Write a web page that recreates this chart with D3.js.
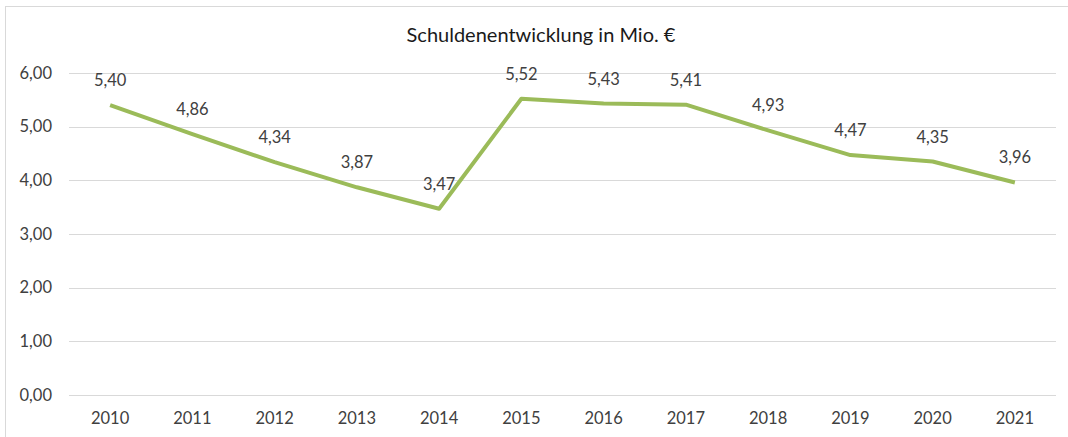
<!DOCTYPE html>
<html>
<head>
<meta charset="utf-8">
<script src="https://cdn.jsdelivr.net/npm/d3@7"></script>
<style>
    html, body { margin: 0; padding: 0; background: #fff; }
    svg { display: block; font-family: Lato, "Open Sans", sans-serif; }
</style>
</head>
<body>
<svg class="graph"></svg>
<script>
// Daten
const years = ["2010", "2011", "2012", "2013", "2014", "2015", "2016", "2017", "2018", "2019", "2020", "2021"];
const debt = [5.40, 4.86, 4.34, 3.87, 3.47, 5.52, 5.43, 5.41, 4.93, 4.47, 4.35, 3.96];
const yTicks = [0, 1, 2, 3, 4, 5, 6];
const title = "Schuldenentwicklung in Mio. €";

const size = {width: 1068, height: 437};
const margin = {left: 69, right: 12, top: 73, bottom: 42};

const fmt = v => d3.format(".2f")(v).replace(".", ",");

const svg = d3.select(".graph")
    .attr("width", size.width)
    .attr("height", size.height);

// Rahmen
svg.append("rect")
    .attr("x", 5.5).attr("y", 6.5)
    .attr("width", size.width).attr("height", size.height)
    .attr("fill", "none")
    .attr("stroke", "#d9d9d9");

svg.append("text")
    .attr("x", 541).attr("y", 42)
    .attr("text-anchor", "middle")
    .attr("font-size", 20)
    .attr("fill", "#1a1a1a")
    .text(title);

const x = d3.scaleBand()
    .domain(years)
    .range([margin.left, size.width - margin.right]);

const y = d3.scaleLinear()
    .domain([0, 6])
    .range([size.height - margin.bottom, margin.top]);

// Gitternetz
svg.append("g")
    .selectAll("line")
    .data(yTicks)
    .join("line")
    .attr("x1", margin.left).attr("x2", size.width - margin.right)
    .attr("y1", d => Math.round(y(d)) + 0.5)
    .attr("y2", d => Math.round(y(d)) + 0.5)
    .attr("stroke", "#d9d9d9")
    .attr("stroke-width", 1);

const yAxis = d3.axisLeft(y)
    .tickValues(yTicks)
    .tickFormat(fmt)
    .tickSize(0)
    .tickPadding(17);

svg.append("g")
    .attr("transform", `translate(${margin.left},0)`)
    .call(yAxis)
    .call(g => g.select(".domain").remove())
    .call(g => g.selectAll("text").attr("font-size", 16.5).attr("fill", "#404040")
        .attr("font-family", "Lato, 'Open Sans', sans-serif"));

const xAxis = d3.axisBottom(x).tickSize(0).tickPadding(17);

svg.append("g")
    .attr("transform", `translate(0,${y(0)})`)
    .call(xAxis)
    .call(g => g.select(".domain").remove())
    .call(g => g.selectAll("text").attr("font-size", 16.5).attr("fill", "#404040")
        .attr("font-family", "Lato, 'Open Sans', sans-serif"));

const line = d3.line()
    .x((d, i) => x(years[i]) + x.bandwidth() / 2)
    .y(d => y(d));

svg.append("path")
    .datum(debt)
    .attr("fill", "none")
    .attr("stroke", "#9bbb59")
    .attr("stroke-width", 4)
    .attr("stroke-linejoin", "round")
    .attr("d", line);

svg.append("g")
    .selectAll("text")
    .data(debt)
    .join("text")
    .attr("x", (d, i) => x(years[i]) + x.bandwidth() / 2)
    .attr("y", d => y(d) - 19)
    .attr("text-anchor", "middle")
    .attr("font-size", 16.5)
    .attr("fill", "#404040")
    .text(fmt);
</script>
</body>
</html>
